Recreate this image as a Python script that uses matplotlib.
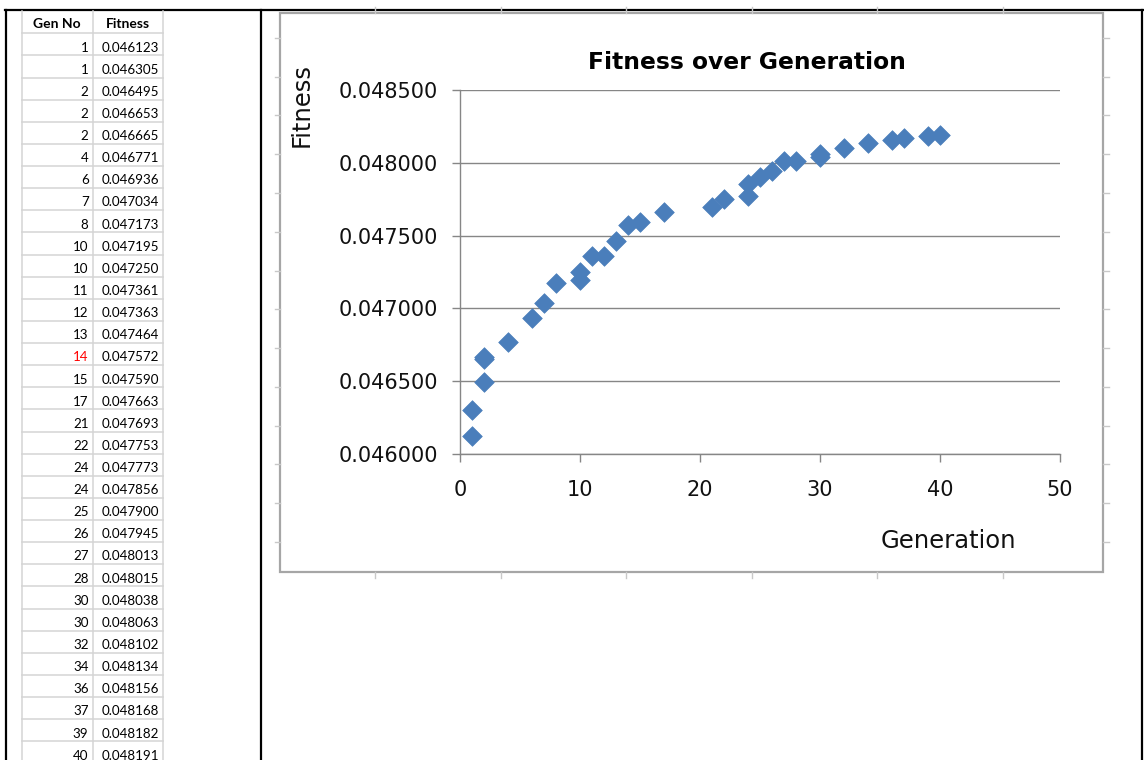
import matplotlib.pyplot as plt
from matplotlib.lines import Line2D
from matplotlib.patches import Rectangle
from matplotlib.ticker import MultipleLocator, FormatStrFormatter

# Best fitness per generation
gen = [1, 1, 2, 2, 2, 4, 6, 7, 8, 10, 10, 11, 12, 13, 14, 15, 17, 21, 22, 24, 24,
       25, 26, 27, 28, 30, 30, 32, 34, 36, 37, 39, 40]
fitness = [0.046123, 0.046305, 0.046495, 0.046653, 0.046665, 0.046771, 0.046936,
           0.047034, 0.047173, 0.047195, 0.047250, 0.047361, 0.047363, 0.047464,
           0.047572, 0.047590, 0.047663, 0.047693, 0.047753, 0.047773, 0.047856,
           0.047900, 0.047945, 0.048013, 0.048015, 0.048038, 0.048063, 0.048102,
           0.048134, 0.048156, 0.048168, 0.048182, 0.048191]
col_headers = ["Gen No", "Fitness"]
red_row = 14

W, H = 1144, 760
fig = plt.figure(figsize=(W / 100, H / 100), dpi=100)


def fx(x):
    return x / W


def fy(y):
    return 1 - y / H


def hline(x0, x1, y, color, lw):
    fig.add_artist(Line2D([fx(x0), fx(x1)], [fy(y), fy(y)], color=color, lw=lw,
                          transform=fig.transFigure))


def vline(x, y0, y1, color, lw):
    fig.add_artist(Line2D([fx(x), fx(x)], [fy(y0), fy(y1)], color=color, lw=lw,
                          transform=fig.transFigure))


# sheet frame
hline(5, 1143, 10, "black", 1.6)
vline(6, 10, 760, "black", 1.6)
vline(261, 10, 760, "black", 1.6)
vline(1142, 10, 760, "black", 1.6)

# data table
grid_c = "#d4d4d4"
row_h = 22.125
top = 33.3
for i in range(len(gen) + 1):
    hline(22, 162.5, top + i * row_h, grid_c, 1.1)
for x in [22, 92.5, 162.5]:
    vline(x, 11, 760, grid_c, 1.1)

tfont = "Lato"
fig.text(fx(57), fy(28.3), col_headers[0], ha="center", va="baseline",
         fontsize=10, fontweight="bold", family=tfont)
fig.text(fx(127.5), fy(28.3), col_headers[1], ha="center", va="baseline",
         fontsize=10, fontweight="bold", family=tfont)
for i, (g, f) in enumerate(zip(gen, fitness)):
    base = top + (i + 1) * row_h - 3.8
    c = "red" if g == red_row else "black"
    fig.text(fx(88.5), fy(base), str(g), ha="right", va="baseline",
             fontsize=9.6, family=tfont, color=c)
    fig.text(fx(159.5), fy(base), "%.6f" % f, ha="right", va="baseline",
             fontsize=9.6, family=tfont)

# chart area box and the cell gridline stubs around it
stub_c = "#c8c8c8"
for k in range(14):
    y = 37.7 + 38.8 * k
    hline(275, 280, y, stub_c, 1)
    hline(1103, 1109, y, stub_c, 1)
for k in range(6):
    x = 375 + 125.5 * k
    vline(x, 7, 13, stub_c, 1)
    vline(x, 572, 578, stub_c, 1)
fig.add_artist(Rectangle((fx(280), fy(572)), fx(1103) - fx(280), fy(13) - fy(572),
                         fill=False, edgecolor="#a6a6a6", lw=1.6,
                         transform=fig.transFigure))

# scatter plot
ax = fig.add_axes([fx(460), fy(454), fx(1060) - fx(460), fy(90) - fy(454)])
ax.scatter(gen, fitness, marker="D", s=100, color="#4a7ebb", edgecolors="#4a7ebb",
           linewidths=0.5, zorder=3, clip_on=False)
ax.set_xlim(0, 50)
ax.set_ylim(0.046, 0.0485)
ax.xaxis.set_major_locator(MultipleLocator(10))
ax.yaxis.set_major_locator(MultipleLocator(0.0005))
ax.yaxis.set_major_formatter(FormatStrFormatter("%.6f"))
ax.grid(axis="y", color="#868686", lw=1.0)
ax.set_axisbelow(True)
for s in ["top", "right"]:
    ax.spines[s].set_visible(False)
for s in ["left", "bottom"]:
    ax.spines[s].set_color("#868686")
    ax.spines[s].set_linewidth(1.0)
ax.tick_params(axis="both", colors="#868686", length=6, width=1.0,
               labelsize=15, labelcolor="#111111")
ax.tick_params(axis="y", pad=10)
ax.tick_params(axis="x", pad=13)

fig.text(fx(746.5), fy(69), "Fitness over Generation", ha="center", va="baseline",
         fontsize=16.8, fontweight="bold")
fig.text(fx(948.5), fy(548), "Generation", ha="center", va="baseline",
         fontsize=17.5, color="#111111")
fig.text(fx(302), fy(105), "Fitness", ha="center", va="center", rotation=90,
         fontsize=17.5, color="#111111")

fig.savefig("out.png", dpi=100)
